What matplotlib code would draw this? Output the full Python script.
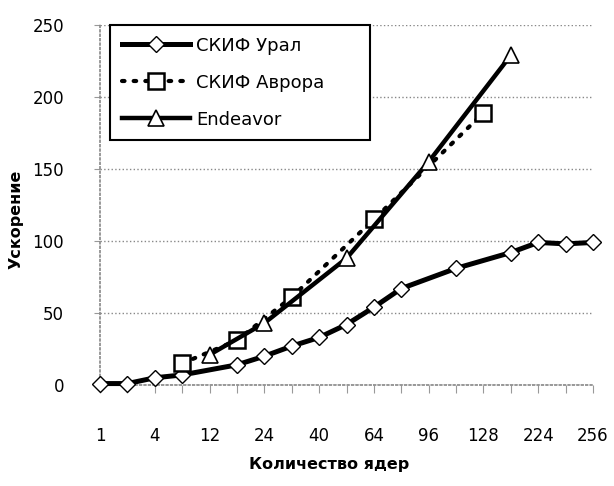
import numpy as np
import matplotlib
matplotlib.use("Agg")
import matplotlib.pyplot as plt

plt.rcParams['font.family'] = ['DejaVu Sans']

# categories (number of cores); only every other one is labelled on the axis
cores = ["1", "2", "4", "8", "12", "16", "24", "32", "40", "48",
         "64", "80", "96", "112", "128", "192", "224", "240", "256"]

nan = np.nan
ural = [1, 1, 5, 7, nan, 14, 20, 27, 33, 42, 54, 67, nan, 81, nan, 92, 99, 98, 99]
avrora = [nan, nan, nan, 15, nan, 31, nan, 61, nan, nan, 115, nan, nan, nan, 189,
          nan, nan, nan, nan]
endeavor = [nan, nan, nan, nan, 21, nan, 43, nan, nan, 88, nan, nan, 155, nan, nan,
            229, nan, nan, nan]

fig = plt.figure(figsize=(6.14, 4.86), dpi=100)
ax = fig.add_axes([100 / 614, 1 - 385 / 486, 493 / 614, 360 / 486])

x = np.arange(len(cores))


def plot_series(vals, **kw):
    v = np.array(vals, dtype=float)
    m = ~np.isnan(v)
    return ax.plot(x[m], v[m], clip_on=False, **kw)


plot_series(ural, color='black', lw=3.6, marker='D', ms=8, mfc='white',
            mec='black', mew=1.0, label='СКИФ Урал', zorder=3)
plot_series(avrora, color='black', lw=3.0, ls=(0, (0.6, 2.2)), dash_capstyle='round',
            marker='s', ms=12, mfc='white', mec='black', mew=1.8,
            label='СКИФ Аврора', zorder=4)
plot_series(endeavor, color='black', lw=3.2, marker='^', ms=12, mfc='white',
            mec='black', mew=1.2, label='Endeavor', zorder=5)

ax.set_xlim(0, len(cores) - 1)
ax.set_ylim(0, 250)
ax.set_yticks([0, 50, 100, 150, 200, 250])
ax.set_xticks(x)
ax.set_xticklabels([c if i % 2 == 0 else "" for i, c in enumerate(cores)])

ax.grid(axis='y', color='#888888', ls=':', lw=1.0)
ax.set_axisbelow(True)
for s in ['top', 'right']:
    ax.spines[s].set_visible(False)
for s in ['left', 'bottom']:
    ax.spines[s].set_color('#888888')
    ax.spines[s].set_linestyle(':')
    ax.spines[s].set_linewidth(1.2)

ax.tick_params(axis='x', length=6, color='#999999', labelsize=12, pad=24)
ax.tick_params(axis='y', length=4, color='#999999', labelsize=12, pad=22)

ax.set_xlabel('Количество ядер', fontsize=11.5, fontweight='bold')
ax.xaxis.set_label_coords((329 - 100) / 493, -0.2)
ax.set_ylabel('Ускорение', fontsize=11.5, fontweight='bold')
ax.yaxis.set_label_coords(-0.155, 0.46)

leg = ax.legend(loc='upper left',
                bbox_to_anchor=(110 / 614, 1 - 138 / 486, 260 / 614, 113 / 486),
                bbox_transform=fig.transFigure, mode='expand', fontsize=13,
                frameon=True, fancybox=False, framealpha=1, edgecolor='black',
                handlelength=3.8, handletextpad=0.3, labelspacing=1.05,
                borderpad=0.65, borderaxespad=0)
leg.get_frame().set_linewidth(1.5)

fig.savefig('out.png', dpi=100)
